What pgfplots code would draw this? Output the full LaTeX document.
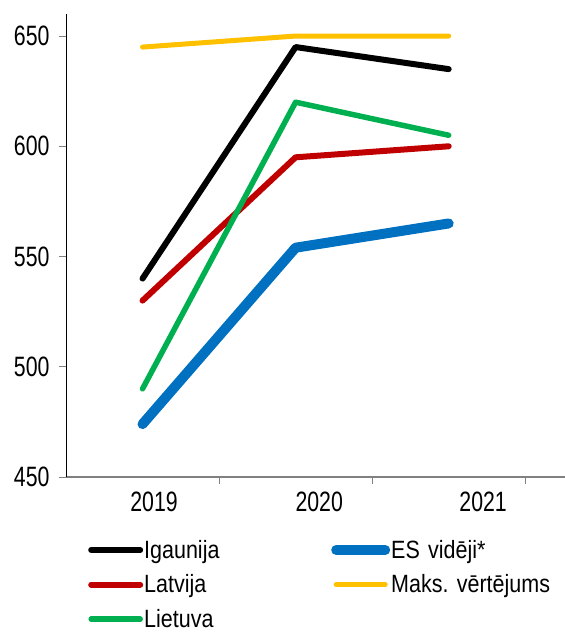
\documentclass[border=0pt]{standalone}
\usepackage{pgfplots}
\pgfplotsset{compat=1.18}
\usepackage{fontspec}
\setmainfont{Liberation Sans}
\newfontfamily\tickfont[FakeStretch=0.76]{Liberation Sans}
\newfontfamily\legfont[FakeStretch=0.86]{Liberation Sans}
\definecolor{cRed}{HTML}{C00000}
\definecolor{cGreen}{HTML}{00B050}
\definecolor{cBlue}{HTML}{0070C0}
\definecolor{cYellow}{HTML}{FFC000}
\frenchspacing
\begin{document}
\begin{tikzpicture}
\useasboundingbox (-66bp,-156bp) rectangle (499bp,477bp);
\begin{axis}[
  at={(0,0)}, anchor=south west,
  scale only axis, width=499bp, height=463bp,
  xmin=-0.5, xmax=2.76, ymin=450, ymax=660,
  axis x line*=bottom, axis y line*=left,
  x axis line style={draw=gray, line width=1.5bp},
  y axis line style={draw=black, line width=0.8bp},
  ytick={450,500,...,650},
  xtick={0.075,1.154,2.225}, xticklabels={2019,2020,2021},
  major x tick style={draw=none},
  minor xtick={0.5,1.5,2.5},
  minor x tick style={draw=gray, line width=1bp},
  minor tick length=7bp,
  y tick style={draw=gray, line width=1bp},
  major tick length=7bp,
  tick align=outside,
  /pgf/number format/assume math mode=true,
  /pgf/number format/1000 sep={},
  yticklabel style={font=\tickfont\fontsize{28bp}{30bp}\selectfont, xshift=-6bp},
  xticklabel style={font=\tickfont\fontsize{28bp}{30bp}\selectfont, yshift=-4bp},
  clip=false,
  every axis plot/.append style={line cap=round, line join=round},
  legend columns=2,
  legend cell align=left,
  legend style={at={(0,0)}, anchor=north west, xshift=22bp, yshift=-60bp,
    draw=none, fill=none, inner sep=0pt,
    font=\legfont\fontsize{25bp}{27bp}\selectfont,
    row sep=9bp,
    nodes={inner xsep=1bp, inner ysep=3bp, text width=186bp}},
  legend image code/.code={\draw[#1] (3bp,0bp) -- (52bp,0bp);},
]
\addplot[black, line width=6bp] coordinates {(0,540) (1,645) (2,635)};
\addlegendentry{Igaunija}
\addplot[cBlue, line width=10bp] coordinates {(0,474) (1,554) (2,565)};
\addlegendentry{ES vidēji*}
\addplot[cRed, line width=6bp] coordinates {(0,530) (1,595) (2,600)};
\addlegendentry{Latvija}
\addplot[cYellow, line width=5bp] coordinates {(0,645) (1,650) (2,650)};
\addlegendentry{Maks. vērtējums}
\addplot[cGreen, line width=5.5bp] coordinates {(0,490) (1,620) (2,605)};
\addlegendentry{Lietuva}
\end{axis}
\end{tikzpicture}
\end{document}
